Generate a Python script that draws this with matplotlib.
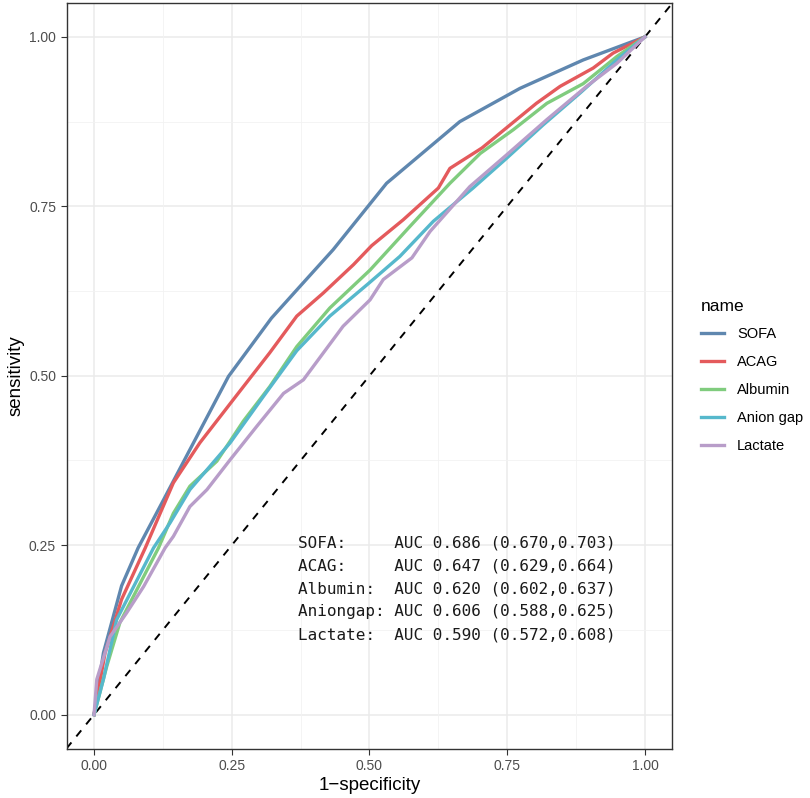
import numpy as np
import matplotlib.pyplot as plt

plt.rcParams['font.family'] = ['Liberation Sans', 'DejaVu Sans']

#- ROC points (1-specificity, sensitivity)
sofa_fpr = [0, 0.017, 0.05, 0.08, 0.123, 0.174, 0.244, 0.322, 0.374, 0.434, 0.531, 0.664, 0.773, 0.888, 1]
sofa_tpr = [0, 0.091, 0.19, 0.246, 0.312, 0.391, 0.499, 0.585, 0.632, 0.686, 0.784, 0.875, 0.924, 0.966, 1]

acag_fpr = [0, 0.02, 0.05, 0.093, 0.12, 0.144, 0.192, 0.253, 0.319, 0.368, 0.416, 0.471, 0.504,
            0.561, 0.625, 0.646, 0.704, 0.755, 0.803, 0.846, 0.906, 0.942, 1]
acag_tpr = [0, 0.091, 0.17, 0.246, 0.297, 0.342, 0.401, 0.465, 0.534, 0.588, 0.622, 0.664, 0.692,
            0.730, 0.777, 0.806, 0.836, 0.870, 0.902, 0.927, 0.954, 0.976, 1]

albumin_fpr = [0, 0.023, 0.047, 0.117, 0.144, 0.174, 0.223, 0.271, 0.319, 0.368, 0.428, 0.501,
               0.573, 0.646, 0.701, 0.761, 0.822, 0.888, 0.949, 1]
albumin_tpr = [0, 0.071, 0.136, 0.246, 0.297, 0.337, 0.374, 0.433, 0.484, 0.543, 0.600, 0.656,
               0.720, 0.784, 0.828, 0.863, 0.902, 0.931, 0.971, 1]

anion_fpr = [0, 0.017, 0.041, 0.108, 0.138, 0.174, 0.247, 0.307, 0.368, 0.428, 0.498, 0.555,
             0.616, 0.688, 0.749, 0.815, 0.882, 0.949, 1]
anion_tpr = [0, 0.052, 0.14, 0.246, 0.283, 0.332, 0.401, 0.469, 0.537, 0.588, 0.636, 0.676,
             0.728, 0.777, 0.821, 0.870, 0.917, 0.966, 1]

lactate_fpr = [0, 0.005, 0.029, 0.059, 0.09, 0.129, 0.144, 0.174, 0.205, 0.247, 0.295, 0.344,
               0.380, 0.452, 0.501, 0.525, 0.577, 0.610, 0.682, 0.749, 0.822, 0.894, 0.949, 1]
lactate_tpr = [0, 0.052, 0.115, 0.15, 0.189, 0.246, 0.263, 0.307, 0.332, 0.376, 0.425, 0.474,
               0.494, 0.573, 0.612, 0.642, 0.674, 0.713, 0.779, 0.826, 0.878, 0.927, 0.961, 1]

names = ['SOFA', 'ACAG', 'Albumin', 'Anion gap', 'Lactate']
colors = ['#5F87AF', '#E45A5C', '#80CC7E', '#56B8CC', '#B89DC9']
curves = [(sofa_fpr, sofa_tpr), (acag_fpr, acag_tpr), (albumin_fpr, albumin_tpr),
          (anion_fpr, anion_tpr), (lactate_fpr, lactate_tpr)]

auc_labels = ['SOFA:     AUC 0.686 (0.670,0.703)',
              'ACAG:     AUC 0.647 (0.629,0.664)',
              'Albumin:  AUC 0.620 (0.602,0.637)',
              'Aniongap: AUC 0.606 (0.588,0.625)',
              'Lactate:  AUC 0.590 (0.572,0.608)']

#- Plot graph:
fig = plt.figure(figsize=(8.1, 7.98), dpi=100)
ax = fig.add_axes([66.5 / 810, 1 - 748.5 / 798, 606 / 810, 745.5 / 798])

ticks = [0, 0.25, 0.5, 0.75, 1.0]
minor = [0.125, 0.375, 0.625, 0.875]
for t in ticks:
    ax.axvline(t, color='#EBEBEB', lw=1.1, zorder=0)
    ax.axhline(t, color='#EBEBEB', lw=1.1, zorder=0)
for t in minor:
    ax.axvline(t, color='#F2F2F2', lw=0.6, zorder=0)
    ax.axhline(t, color='#F2F2F2', lw=0.6, zorder=0)

ax.plot([-0.05, 1.05], [-0.05, 1.05], color='black', ls=(0, (4, 4)), lw=1.4, zorder=1)

for (fx, ty), nm, c in zip(curves, names, colors):
    ax.plot(fx, ty, color=c, lw=2.4, label=nm, zorder=2, solid_joinstyle='round')

for i, lab in enumerate(auc_labels):
    ax.text(0.370, 0.253 - i * 0.0338, lab, fontsize=11.5, family='DejaVu Sans Mono',
            va='center', ha='left', color='#1a1a1a', zorder=3)

ax.set_xlim(-0.05, 1.05)
ax.set_ylim(-0.05, 1.05)
ax.set_xticks(ticks)
ax.set_yticks(ticks)
ax.set_xticklabels(['0.00', '0.25', '0.50', '0.75', '1.00'])
ax.set_yticklabels(['0.00', '0.25', '0.50', '0.75', '1.00'])
ax.tick_params(colors='#333333', labelcolor='#4D4D4D', labelsize=10, length=4, width=0.8)
for s in ax.spines.values():
    s.set_color('#333333')
    s.set_linewidth(1.0)

ax.set_xlabel('1\u2212specificity', fontsize=13.5, labelpad=3)
ax.set_ylabel('sensitivity', fontsize=13.5, labelpad=3)

leg = ax.legend(title='name', loc='center left', bbox_to_anchor=(1.025, 0.5), frameon=False,
                fontsize=10.5, title_fontsize=12.5, handlelength=1.6, handletextpad=0.9,
                labelspacing=0.95)
leg._legend_box.align = 'left'

fig.savefig('out.png', dpi=100)
